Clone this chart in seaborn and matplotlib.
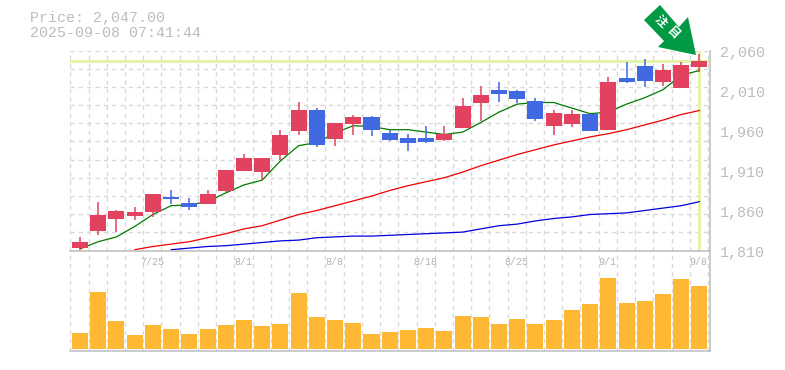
"""Candlestick chart with moving averages and a volume panel"""
import matplotlib
matplotlib.use('Agg')
import matplotlib.pyplot as plt
from matplotlib.patches import Polygon
import numpy as np
import pandas as pd
import seaborn as sns

# ~~~~~~~  Data  ~~~~~~~ #
opens = [1813, 1835, 1850, 1853, 1858, 1877, 1869, 1868, 1884, 1909, 1908, 1930, 1959, 1986, 1950,
         1968, 1977, 1957, 1951, 1951, 1948, 1963, 1995, 2011, 2010, 1997, 1966, 1968, 1981, 1961,
         2025, 2040, 2021, 2013, 2040]
closes = [1821, 1855, 1860, 1858, 1880, 1875, 1865, 1881, 1911, 1926, 1926, 1955, 1986, 1942, 1970,
          1977, 1961, 1948, 1945, 1946, 1956, 1990, 2005, 2006, 2000, 1975, 1982, 1981, 1960, 2020,
          2021, 2022, 2036, 2042, 2047]
highs = [1827, 1871, 1861, 1864, 1880, 1886, 1876, 1886, 1911, 1931, 1926, 1961, 1996, 1988, 1970,
         1980, 1978, 1961, 1956, 1966, 1966, 2001, 2016, 2021, 2011, 2001, 1986, 1986, 1981, 2027,
         2046, 2050, 2043, 2046, 2056]
lows = [1811, 1830, 1833, 1848, 1852, 1868, 1861, 1868, 1883, 1909, 1898, 1923, 1955, 1939, 1941,
        1955, 1953, 1947, 1934, 1945, 1947, 1963, 1972, 1996, 1995, 1972, 1955, 1965, 1960, 1961,
        2019, 2015, 2016, 2013, 2033]
ma_short = [1812, 1821, 1827, 1840, 1855, 1866, 1867, 1871, 1882, 1892, 1898, 1922, 1941, 1945, 1957,
            1966, 1965, 1961, 1961, 1958, 1955, 1958, 1970, 1983, 1993, 1995, 1995, 1988, 1981, 1983,
            1993, 2001, 2011, 2029, 2035]
ma_mid = [None, None, None, 1811, 1815, 1818, 1821, 1826, 1831, 1837, 1841, 1848, 1855, 1860, 1866,
          1872, 1878, 1885, 1891, 1896, 1901, 1908, 1916, 1923, 1930, 1936, 1942, 1947, 1952, 1956,
          1961, 1967, 1973, 1980, 1985]
ma_long = [None, None, None, None, None, 1811, 1813, 1815, 1816, 1818, 1820, 1822, 1823, 1826, 1827,
           1828, 1828, 1829, 1830, 1831, 1832, 1833, 1837, 1841, 1843, 1847, 1850, 1852, 1855, 1856,
           1857, 1860, 1863, 1866, 1871]
volumes = [16, 57, 28, 14, 24, 20, 15, 20, 24, 29, 23, 25, 56, 32, 29, 26, 15, 17, 19, 21, 18, 33, 32,
           25, 30, 25, 29, 39, 45, 71, 46, 48, 55, 70, 63]
date_labels = {4: '7/25', 9: '8/1', 14: '8/8', 19: '8/18', 24: '8/25', 29: '9/1', 34: '9/8'}
price_ticks = [2060, 2010, 1960, 1910, 1860, 1810]
last_price = 2047

RED = '#e2425f'
BLUE = '#4169e1'
GREY = '#bdbdbd'
MARK = '#e3f4a8'

# ~~~~~~~  Figure and panels  ~~~~~~~ #
sns.set_style('white')
plt.rcParams['font.family'] = ['Liberation Mono', 'Noto Sans CJK JP', 'DejaVu Sans']

W, H = 785, 370
figure = plt.figure(figsize=(W / 100, H / 100), dpi=100)
price_ax = figure.add_axes([70 / W, 1 - 250.5 / H, 640 / W, 200 / H])
volume_ax = figure.add_axes([70 / W, 1 - 350.5 / H, 640 / W, 100 / H])

frame = pd.DataFrame({'day': range(len(opens)), 'open': opens, 'close': closes, 'high': highs,
                      'low': lows, 'short': ma_short, 'mid': ma_mid, 'long': ma_long,
                      'volume': volumes}).astype(float)
frame['colour'] = np.where(frame['close'] >= frame['open'], RED, BLUE)

xlim = (-0.55, 34.58)
grid_x = np.arange(len(opens) + 1) - 0.53

for axes in (price_ax, volume_ax):
    axes.set_xlim(xlim)
    axes.set_xticks(grid_x)
    axes.tick_params(left=False, bottom=False, labelbottom=False, labelleft=False)
    axes.grid(axis='x', color='#d8d8d8', linestyle=(0, (3, 3)), linewidth=1)
    axes.set_axisbelow(True)
    for side in ('left', 'top'):
        axes.spines[side].set_visible(False)
    for side in ('right', 'bottom'):
        axes.spines[side].set_color(GREY)
        axes.spines[side].set_linewidth(1.1)
    axes.patch.set_alpha(0)

# price panel
price_ax.set_ylim(1810, 2060)
price_ax.set_yticks(np.linspace(1810, 2060, 12))
price_ax.grid(axis='y', color='#d8d8d8', linestyle=(0, (3, 3)), linewidth=1)
price_ax.axhline(last_price, color=MARK, linewidth=2.2, zorder=1)
price_ax.axvline(34, color=MARK, linewidth=2.2, zorder=1)

# moving averages sit under the candles
sns.lineplot(data=frame, x='day', y='short', color='#007a00', linewidth=0.9, ax=price_ax, zorder=2)
sns.lineplot(data=frame, x='day', y='mid', color='#ee0000', linewidth=0.9, ax=price_ax, zorder=2)
sns.lineplot(data=frame, x='day', y='long', color='#0000e0', linewidth=0.9, ax=price_ax, zorder=2)
price_ax.set(xlabel='', ylabel='')

price_ax.vlines(frame['day'], frame['low'], frame['high'], colors=frame['colour'], linewidth=1.1, zorder=3)
price_ax.bar(frame['day'], (frame['close'] - frame['open']).abs(),
             bottom=frame[['open', 'close']].min(axis=1), width=0.88,
             color=frame['colour'], linewidth=0, zorder=3)

for price in price_ticks:
    price_ax.annotate(f'{price:,}', xy=(1, price), xycoords=price_ax.get_yaxis_transform(),
                      xytext=(10, -3), textcoords='offset pixels', va='center', ha='left',
                      fontsize=10.8, color=GREY, annotation_clip=False)

# volume panel
sns.barplot(data=frame, x='day', y='volume', color='#ffb833', width=0.88, saturation=1,
            native_scale=True, linewidth=0, ax=volume_ax)
volume_ax.set_xlim(xlim)
volume_ax.set_ylim(-2, 98)
volume_ax.set_xticks(grid_x)
volume_ax.tick_params(left=False, bottom=False, labelbottom=False, labelleft=False)
volume_ax.set(xlabel='', ylabel='')
for day, label in date_labels.items():
    volume_ax.annotate(label, xy=(day, 98), xytext=(-1, -11.5), textcoords='offset pixels',
                       ha='center', va='center', fontsize=7.2, color='#b4b4b4')

# header text
figure.text(30 / W, 1 - 18 / H, f'Price: {last_price:,}.00', fontsize=10.8, color=GREY, va='center')
figure.text(30 / W, 1 - 33 / H, '2025-09-08 07:41:44', fontsize=10.8, color=GREY, va='center')

# arrow badge in figure pixels
arrow = np.array([(660, 5), (644, 20), (664, 41), (658, 47), (696, 55), (688, 17), (679, 27)])
arrow_xy = np.column_stack([arrow[:, 0] / W, 1 - arrow[:, 1] / H])
figure.add_artist(Polygon(arrow_xy, closed=True, transform=figure.transFigure, color='#009944', linewidth=0, zorder=6))
figure.text(660 / W, 1 - 22 / H, '注', fontsize=8.5, color='white', weight='bold',
            rotation=-45, ha='center', va='center', zorder=7)
figure.text(672 / W, 1 - 33 / H, '目', fontsize=8.5, color='white', weight='bold',
            rotation=-45, ha='center', va='center', zorder=7)

figure.savefig('out.png', dpi=100, facecolor='white')
